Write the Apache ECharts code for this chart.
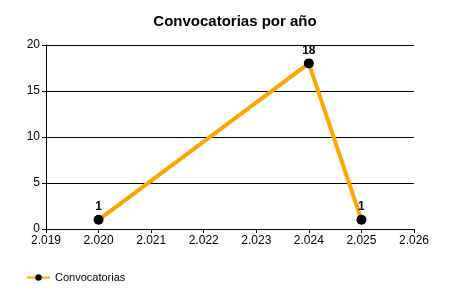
<!DOCTYPE html>
<html><head><meta charset="utf-8">
<script src="https://cdn.jsdelivr.net/npm/echarts@6/dist/echarts.min.js"></script>
<style>html,body{margin:0;padding:0;background:#fff}#c{width:450px;height:300px}</style>
</head><body><div id="c"></div>
<script>
var years = [2020, 2024, 2025];
var counts = [1, 18, 1];
var seriesName = 'Convocatorias';
var titleText = 'Convocatorias por año';

var chart = echarts.init(document.getElementById('c'), null, {renderer: 'canvas'});
var font = 'Liberation Sans, Arial, sans-serif';
chart.setOption({
  animation: false,
  title: {text: titleText, left: 230, top: 9, textAlign: 'center',
    textStyle: {fontFamily: font, fontSize: 15, fontWeight: 'bold', color: '#000'}},
  grid: {left: 46, right: 36, top: 45, bottom: 71, containLabel: false},
  legend: {left: 21, top: 267, itemWidth: 23, itemHeight: 8, itemGap: 5,
    data: [seriesName],
    textStyle: {fontFamily: font, fontSize: 11, color: '#000'}},
  xAxis: {type: 'value', min: 2019, max: 2026, interval: 1,
    axisLine: {lineStyle: {color: '#000', width: 1}},
    axisTick: {show: true, length: 4, lineStyle: {color: '#000'}},
    splitLine: {show: false},
    axisLabel: {fontFamily: font, fontSize: 12, color: '#000', margin: 6,
      formatter: function(v){ var s = String(v); return s.slice(0,1) + '.' + s.slice(1); }}},
  yAxis: {type: 'value', min: 0, max: 20, interval: 5,
    axisLine: {show: true, lineStyle: {color: '#000', width: 1}},
    axisTick: {show: true, length: 4, lineStyle: {color: '#000'}},
    splitLine: {show: true, lineStyle: {color: '#000', width: 1}},
    axisLabel: {fontFamily: font, fontSize: 12, color: '#000', margin: 6}},
  series: [{
    name: seriesName, type: 'line',
    data: years.map(function(y, i){ return [y, counts[i]]; }),
    symbol: 'circle', symbolSize: 10,
    itemStyle: {color: '#000'},
    lineStyle: {color: '#FFA500', width: 4},
    label: {show: true, position: 'top', distance: 2, fontFamily: font, fontSize: 12,
      fontWeight: 'bold', color: '#000'}
  }]
});
</script></body></html>
